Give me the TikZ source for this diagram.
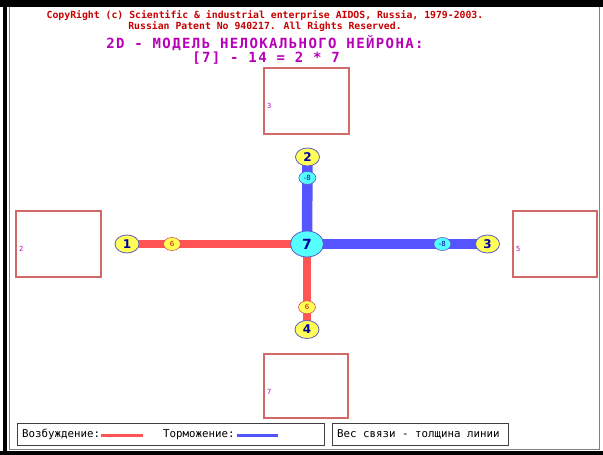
\documentclass[tikz,border=0pt]{standalone}
\usepackage{fontspec}
\setmainfont{DejaVu Sans}
\newfontfamily\monofont{DejaVu Sans Mono}
\newfontfamily\titlefont[LetterSpace=10]{DejaVu Sans Mono}
\usetikzlibrary{shapes.geometric,backgrounds}
\definecolor{excred}{RGB}{255,85,85}
\definecolor{inhblue}{RGB}{85,85,255}
\definecolor{nyellow}{RGB}{255,255,85}
\definecolor{ncyan}{RGB}{85,255,255}
\definecolor{nborder}{RGB}{90,90,200}
\definecolor{navy}{RGB}{0,0,160}
\definecolor{copyred}{RGB}{200,0,0}
\definecolor{titlemag}{RGB}{185,0,185}
\definecolor{boxred}{RGB}{210,105,105}
\begin{document}
\begin{tikzpicture}[x=1pt,y=-1pt,
    neuron/.style={ellipse,draw=nborder,line width=0.8pt,fill=nyellow,inner sep=0pt,
      minimum width=24,minimum height=18,text=navy,font=\bfseries\fontsize{12}{12}\selectfont},
    soma/.style={neuron,fill=ncyan,minimum width=33,minimum height=26,font=\bfseries\fontsize{14}{14}\selectfont},
    wexc/.style={ellipse,draw=copyred!70,line width=0.6pt,fill=nyellow,inner sep=0pt,
      minimum width=17,minimum height=13,text=copyred,font=\fontsize{7}{7}\selectfont},
    winh/.style={wexc,draw=nborder,fill=ncyan,text=navy},
    excline/.style={excred,line width=7.5pt},
    inhline/.style={inhblue,line width=10.5pt},
    inbox/.style={draw=boxred,line width=1.2pt},
    boxlabel/.style={anchor=west,inner sep=0pt,text=titlemag,font=\monofont\fontsize{7}{7}\selectfont},
    copytext/.style={text=copyred,font=\monofont\bfseries\fontsize{9.8}{9.8}\selectfont},
    titletext/.style={text=titlemag,font=\titlefont\bfseries\fontsize{14}{14}\selectfont},
    legbox/.style={draw=black!75,line width=1pt},
    legtext/.style={anchor=west,inner sep=0pt,font=\monofont\fontsize{10.8}{10.8}\selectfont}]
\useasboundingbox (0,0) rectangle (603,455);
\begin{pgfonlayer}{background}
\fill[white] (0,0) rectangle (603,455);
\end{pgfonlayer}
% рамка окна
\fill[black] (0,0) rectangle (603,7);
\fill[black] (3,0) rectangle (7,455);
\fill[black] (0,451) rectangle (603,455);
\draw[black!50,line width=1pt] (9,7) -- (9,449) -- (599,449) -- (599,7);
% заголовок
\node[copytext] (copy1) at (265,16)
  {CopyRight (c) Scientific \& industrial enterprise AIDOS, Russia, 1979-2003.};
\node[copytext] (copy2) at (265,27)
  {Russian Patent No 940217. All Rights Reserved.};
\node[titletext] (title) at (265,43) {2D - МОДЕЛЬ НЕЛОКАЛЬНОГО НЕЙРОНА:};
\node[titletext] (formula) at (266,58) {[7] - 14 = 2 * 7};
% окна рецепторов
\draw[inbox] (264,68) rectangle (349,134);
\node[boxlabel] (lab3) at (267,106) {3};
\draw[inbox] (16,211) rectangle (101,277);
\node[boxlabel] (lab2) at (19,249) {2};
\draw[inbox] (513,211) rectangle (597,277);
\node[boxlabel] (lab5) at (516,249) {5};
\draw[inbox] (264,354) rectangle (348,418);
\node[boxlabel] (lab7) at (267,392) {7};
% нейроны
\node[soma] (n7) at (307,244) {7};
\node[neuron] (n1) at (127,244) {1};
\node[neuron] (n2) at (307.5,157) {2};
\node[neuron] (n3) at (487.5,244) {3};
\node[neuron] (n4) at (307,329.5) {4};
% связи
\begin{pgfonlayer}{background}
\draw[excline] (n1.center) -- node[pos=0.25,wexc] (w1) {6} (n7.center);
\draw[inhline] (n2.center) -- node[pos=0.24,winh] (w2) {-8} (n7.center);
\draw[inhline] (n3.center) -- node[pos=0.25,winh] (w3) {-8} (n7.center);
\draw[excline] (n4.center) -- node[pos=0.26,wexc] (w4) {6} (n7.center);
\end{pgfonlayer}
% легенда
\draw[legbox] (17,423) rectangle (324,445);
\draw[legbox] (332,423) rectangle (508,445);
\node[legtext] (exc) at (22,434.5) {Возбуждение:};
\coordinate (excA) at (101,435);
\coordinate (excB) at (143,435);
\draw[excred,line width=3pt] (excA) -- (excB);
\node[legtext] (inh) at (163,434.5) {Торможение:};
\coordinate (inhA) at (237,435);
\coordinate (inhB) at (278,435);
\draw[inhblue,line width=3pt] (inhA) -- (inhB);
\node[legtext] (weight) at (337,434.5) {Вес связи - толщина линии};
\end{tikzpicture}
\end{document}
